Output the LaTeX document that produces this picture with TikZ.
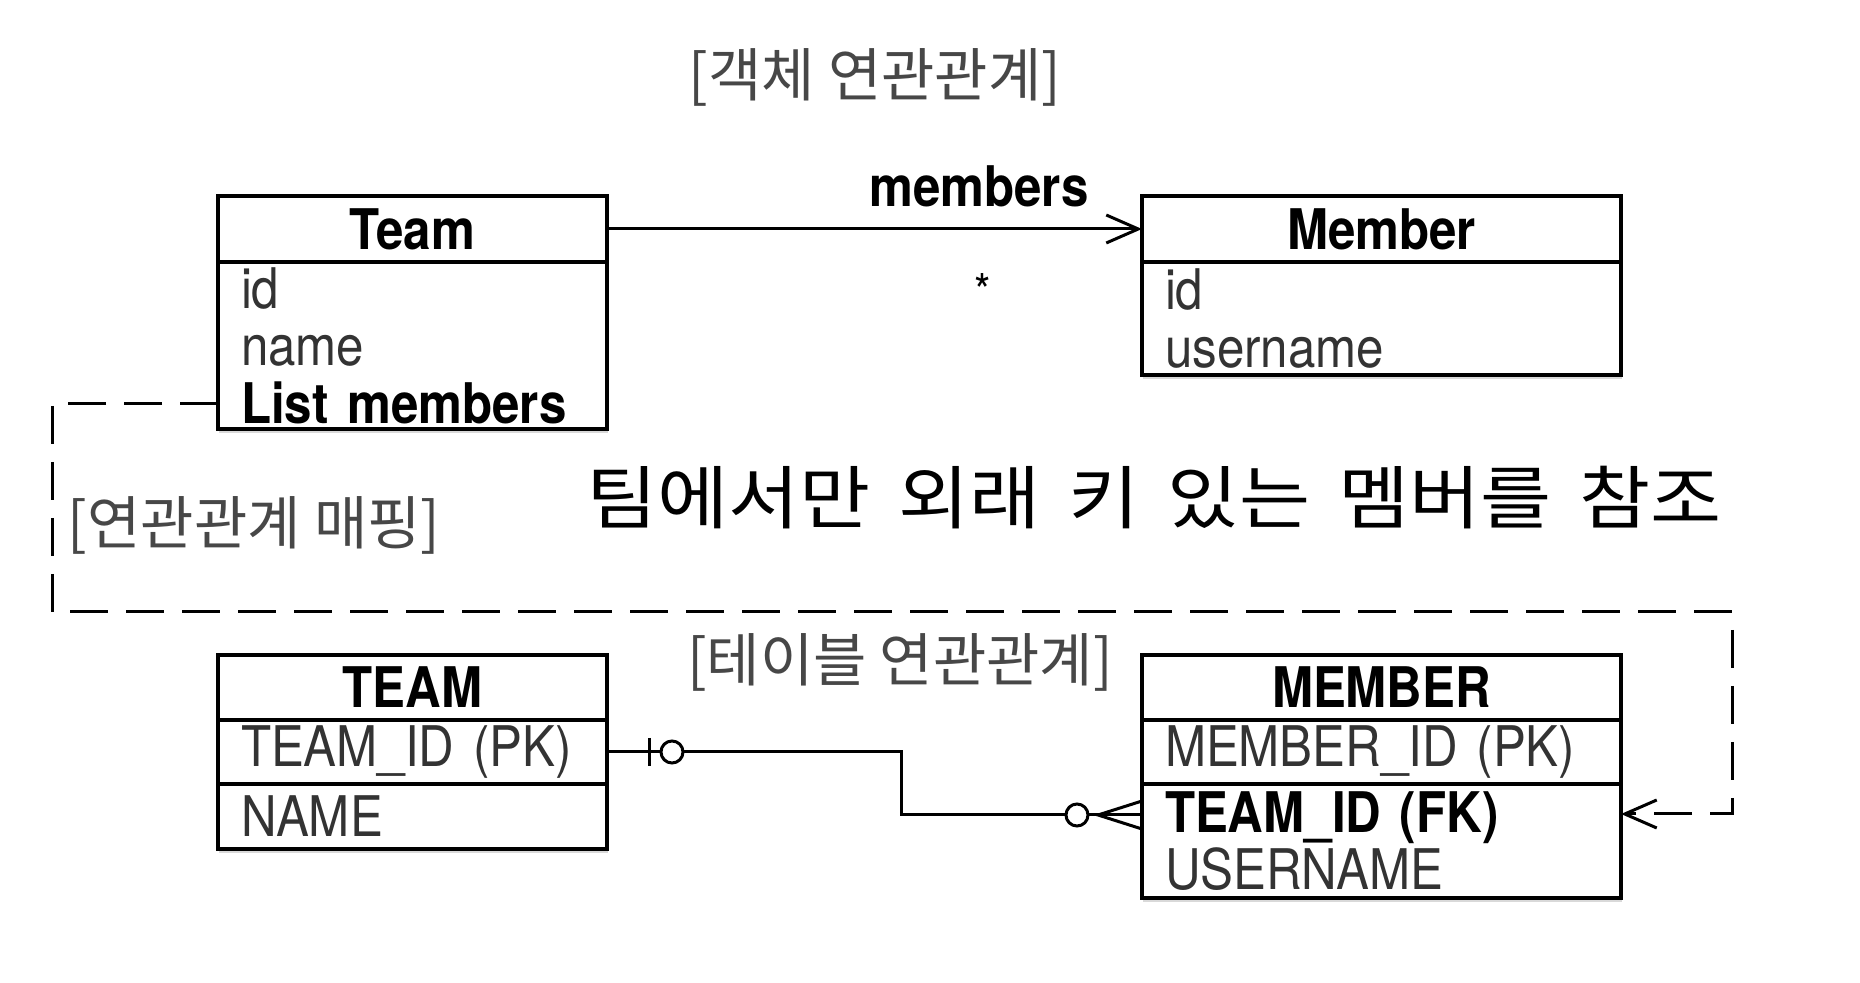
\documentclass[tikz,border=0pt]{standalone}
\usepackage{fontspec}
\setmainfont{TeX Gyre Heros}[FakeStretch=0.88]
\newfontfamily\kofont{Noto Sans CJK KR}
\newfontfamily\kowide{Noto Sans CJK KR}[FakeStretch=1.12]
\newcommand\widespaces{\spaceskip 14pt\relax}
\usetikzlibrary{positioning,arrows.meta,shadows}

\begin{document}
\begin{tikzpicture}
  [
    x=0.5pt, y=-0.5pt,
    every node/.style={inner sep=0pt, outer sep=0pt},
    box/.style={draw, line width=1.6pt, fill=white,
      drop shadow={shadow xshift=0.6pt, shadow yshift=-2.2pt, opacity=0.3}},
    head/.style={box, minimum width=#1, minimum height=33pt, anchor=north west,
      font=\fontsize{28}{29}\selectfont\bfseries},
    body/.style={box, text width=#1, align=left, inner xsep=11.5pt,
      font=\fontsize{28}{28.75}\selectfont, text=black!80},
    lbl/.style={font=\kofont\fontsize{29}{31}\selectfont, text=black!72},
    lblbold/.style={font=\fontsize{28}{29}\selectfont\bfseries},
    bigtext/.style={font=\kowide\fontsize{34.5}{38}\selectfont\widespaces},
    assoc/.style={line width=1.5pt, -{Straight Barb[length=16pt,width=14pt]}},
    mapline/.style={line width=1.5pt, dash pattern=on 19pt off 9pt,
      -{Straight Barb[length=16pt,width=14pt]}},
    rel/.style={line width=1.5pt},
    erring/.style={circle, draw, fill=white, line width=1.5pt, minimum size=11pt}
  ]
  \useasboundingbox (0,0) rectangle (1860,983);

  \node[lbl] (objlbl) at (875,77) {[객체 연관관계]};

  \node[head=194.5pt] (teamhd) at (218,196) {Team};
  \node[body=171.5pt, minimum height=83.5pt, below=0pt of teamhd] (teambd)
    {id\\name\\\textcolor{black}{\bfseries List members}};

  \node[head=239.5pt] (memberhd) at (1142,196) {Member};
  \node[body=216.5pt, minimum height=56.5pt, below=0pt of memberhd] (memberbd)
    {id\\username};

  \draw[assoc] (teamhd.east) -- (memberhd.west);
  \node[lblbold] (assoclbl) at (979,186) {members};
  \node[font=\fontsize{24}{26}\selectfont] (assocmult) at (983,291) {*};

  \node[lbl, anchor=west] (maplbl) at (68,525) {[연관관계 매핑]};
  \node[bigtext] (note) at (1154,498) {팀에서만 외래 키 있는 멤버를 참조};
  \node[lbl] (tbllbl) at (900,662) {[테이블 연관관계]};

  \node[head=194.5pt, minimum height=32.5pt] (tblteam) at (218,655) {TEAM};
  \node[body=171.5pt, minimum height=32pt, below=0pt of tblteam] (tblteamid)
    {TEAM\_ID (PK)};
  \node[body=171.5pt, minimum height=32.5pt, below=0pt of tblteamid] (tblteamname)
    {NAME};

  \node[head=239.5pt, minimum height=32.5pt] (tblmbr) at (1142,655) {MEMBER};
  \node[body=216.5pt, minimum height=32pt, below=0pt of tblmbr] (tblmbrid)
    {MEMBER\_ID (PK)};
  \node[body=216.5pt, minimum height=57pt, below=0pt of tblmbrid] (tblmbrbd)
    {\textcolor{black}{\bfseries TEAM\_ID (FK)}\\USERNAME};

  \draw[mapline] ([yshift=12.5pt]teambd.south west) -| (52,612)
    -| (1732,814) -- ([yshift=13.5pt]tblmbrbd.east);

  \coordinate (footpt) at ([xshift=-22pt,yshift=13pt]tblmbrbd.west);
  \draw[rel] (tblteamid.east) -- (901,752) |- ([yshift=13pt]tblmbrbd.west);
  \draw[rel] ([xshift=21pt,yshift=7pt]tblteamid.east)
    -- ([xshift=21pt,yshift=-7pt]tblteamid.east);
  \draw[rel] ([yshift=20pt]tblmbrbd.west) -- (footpt)
    -- ([yshift=6pt]tblmbrbd.west);
  \node[erring, right=27pt of tblteamid.east] (onering) {};
  \node[erring, left=5pt of footpt] (manyring) {};
\end{tikzpicture}
\end{document}
